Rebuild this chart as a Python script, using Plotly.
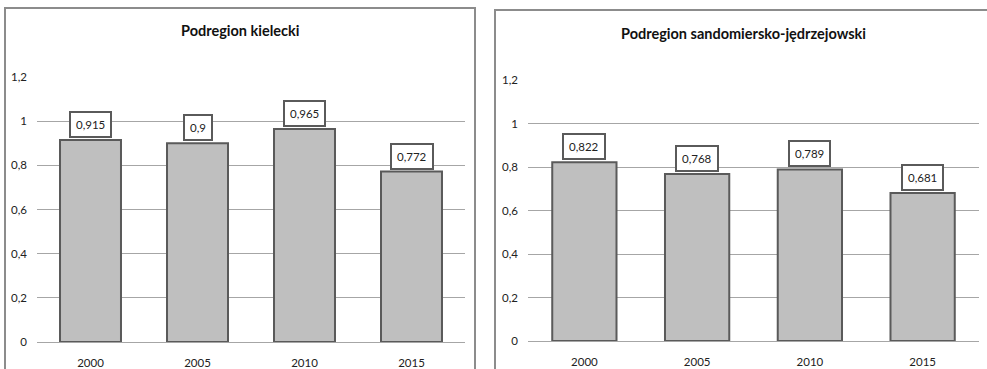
import plotly.graph_objects as go

years = ["2000", "2005", "2010", "2015"]
kielecki = [0.915, 0.9, 0.965, 0.772]
sandomiersko = [0.822, 0.768, 0.789, 0.681]
titles = ["Podregion kielecki", "Podregion sandomiersko-jędrzejowski"]
y_ticks = [0, 0.2, 0.4, 0.6, 0.8, 1.0, 1.2]

W, H = 987, 369
FONT = "Lato"
BAR_FILL = "#BFBFBF"
BAR_LINE = "#5A5A5A"
GRID = "#A6A6A6"
FRAME = "#8C8C8C"

pos = list(range(len(years)))

fig = go.Figure()

fig.add_trace(go.Bar(x=pos, y=kielecki, xaxis="x", yaxis="y",
                     marker=dict(color=BAR_FILL, line=dict(color=BAR_LINE, width=2)),
                     width=0.57, hoverinfo="skip"))
fig.add_trace(go.Bar(x=pos, y=sandomiersko, xaxis="x2", yaxis="y2",
                     marker=dict(color=BAR_FILL, line=dict(color=BAR_LINE, width=2)),
                     width=0.57, hoverinfo="skip"))

def fmt(v):
    s = ("%.3f" % v).rstrip("0").rstrip(".")
    return s.replace(".", ",")

annotations = []
for xr, yr, vals in [("x", "y", kielecki), ("x2", "y2", sandomiersko)]:
    for p, v in zip(pos, vals):
        annotations.append(dict(x=p, y=v, xref=xr, yref=yr, text=fmt(v),
                                showarrow=False, xanchor="center", yanchor="bottom", yshift=2,
                                font=dict(family=FONT, size=11.5, color="#222"),
                                bgcolor="white", bordercolor=BAR_LINE,
                                borderwidth=2, borderpad=5))

# titles
annotations.append(dict(x=240 / W, y=1 - 30 / H, xref="paper", yref="paper",
                        xanchor="center", yanchor="middle",
                        text="<b>" + titles[0] + "</b>", showarrow=False,
                        font=dict(family=FONT, size=14.5, color="#111")))
annotations.append(dict(x=743 / W, y=1 - 33 / H, xref="paper", yref="paper",
                        xanchor="center", yanchor="middle",
                        text="<b>" + titles[1] + "</b>", showarrow=False,
                        font=dict(family=FONT, size=14.5, color="#111")))

shapes = [
    dict(type="rect", xref="paper", yref="paper", x0=5 / W, x1=475 / W,
         y0=-0.1, y1=1 - 8 / H, line=dict(color=FRAME, width=2)),
    dict(type="rect", xref="paper", yref="paper", x0=495 / W, x1=1.1,
         y0=-0.1, y1=1 - 10 / H, line=dict(color=FRAME, width=2)),
]

axis_font = dict(family=FONT, size=11.5, color="#222")
yaxis_common = dict(range=[0, 1.2], tickvals=y_ticks, showgrid=True, gridcolor=GRID,
                    gridwidth=1, zeroline=False, showline=False, ticks="",
                    tickfont=axis_font, fixedrange=True, ticklabelstandoff=9,
                    automargin=False)
xaxis_common = dict(range=[-0.5, len(years) - 0.5], tickvals=pos, ticktext=years,
                    showgrid=False, zeroline=False, showline=True,
                    linecolor=GRID, linewidth=1, ticks="", tickfont=axis_font,
                    fixedrange=True, ticklabelstandoff=10, automargin=False)

fig.update_layout(
    width=W, height=H, margin=dict(l=0, r=0, t=0, b=0, autoexpand=False),
    paper_bgcolor="white", plot_bgcolor="white",
    separators=", ", showlegend=False,
    xaxis=dict(domain=[37 / W, 465 / W], anchor="y", **xaxis_common),
    yaxis=dict(domain=[27 / H, 292 / H], anchor="x", **yaxis_common),
    xaxis2=dict(domain=[528 / W, 979 / W], anchor="y2", **xaxis_common),
    yaxis2=dict(domain=[28 / H, 289 / H], anchor="x2", **yaxis_common),
    annotations=annotations, shapes=shapes,
)

fig.write_html("out.html", config={"displayModeBar": False},
               post_script="document.body.style.margin='0';document.body.style.overflow='hidden';")
